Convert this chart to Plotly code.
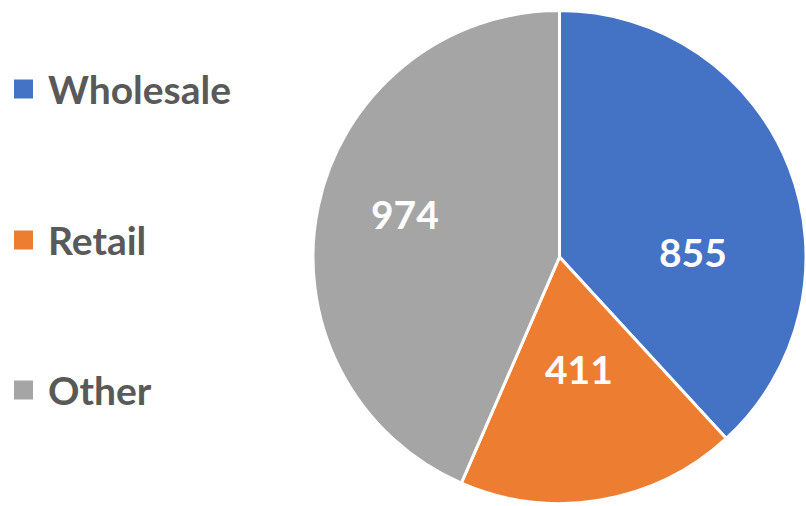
import math
import plotly.graph_objects as go

# Sales by channel
channels = ["Wholesale", "Retail", "Other"]
amounts = [855, 411, 974]
slice_colors = ["#4472C4", "#ED7D31", "#A5A5A5"]

W, H = 806, 506
FONT = "Lato"
TEXT_GREY = "#595959"

# Pie placement in pixels (paper == page, margins are zero)
PIE_X0, PIE_X1 = 313, 806
PIE_TOP, PIE_BOTTOM = 10, 504

fig = go.Figure(
    go.Pie(
        labels=channels,
        values=amounts,
        sort=False,
        direction="clockwise",
        rotation=0,
        marker=dict(colors=slice_colors, line=dict(color="white", width=3)),
        textinfo="none",
        domain=dict(x=[PIE_X0 / W, PIE_X1 / W], y=[1 - PIE_BOTTOM / H, 1 - PIE_TOP / H]),
        showlegend=False,
        hoverinfo="label+value+percent",
    )
)

shapes, annotations = [], []

# Value labels: placed along each slice's mid-angle, at a per-slice depth
cx = (PIE_X0 + PIE_X1) / 2
cy = (PIE_TOP + PIE_BOTTOM) / 2
radius = min(PIE_X1 - PIE_X0, PIE_BOTTOM - PIE_TOP) / 2
label_depth = [0.54, 0.47, 0.65]   # fraction of the radius
label_turn = [20, 0, 3]            # extra clockwise turn, degrees
total = sum(amounts)
start = 0.0
for val, depth, turn in zip(amounts, label_depth, label_turn):
    sweep = 360.0 * val / total
    theta = math.radians(start + sweep / 2 + turn)
    px = cx + depth * radius * math.sin(theta)
    py = cy - depth * radius * math.cos(theta)
    annotations.append(
        dict(
            text=f"<b>{val}</b>", xref="paper", yref="paper",
            x=px / W, y=1 - py / H, xanchor="center", yanchor="middle",
            showarrow=False, yshift=2,
            font=dict(family=FONT, size=39, color="white"),
        )
    )
    start += sweep

# Legend: coloured square + bold label per channel, stacked down the left side
legend_rows_y = [89, 240, 390]  # pixel centres of each row, from the top
for name, color, row_y in zip(channels, slice_colors, legend_rows_y):
    yc = 1 - row_y / H
    shapes.append(
        dict(
            type="rect", xref="paper", yref="paper",
            x0=14 / W, x1=33 / W, y0=yc - 9.5 / H, y1=yc + 9.5 / H,
            fillcolor=color, line=dict(width=0),
        )
    )
    annotations.append(
        dict(
            text=f"<b>{name}</b>", xref="paper", yref="paper",
            x=46 / W, y=yc, xanchor="left", yanchor="middle",
            showarrow=False,
            font=dict(family=FONT, size=39, color=TEXT_GREY),
        )
    )

fig.update_layout(
    width=W,
    height=H,
    margin=dict(l=0, r=0, t=0, b=0),
    paper_bgcolor="white",
    plot_bgcolor="white",
    shapes=shapes,
    annotations=annotations,
)

fig.write_html("out.html")
